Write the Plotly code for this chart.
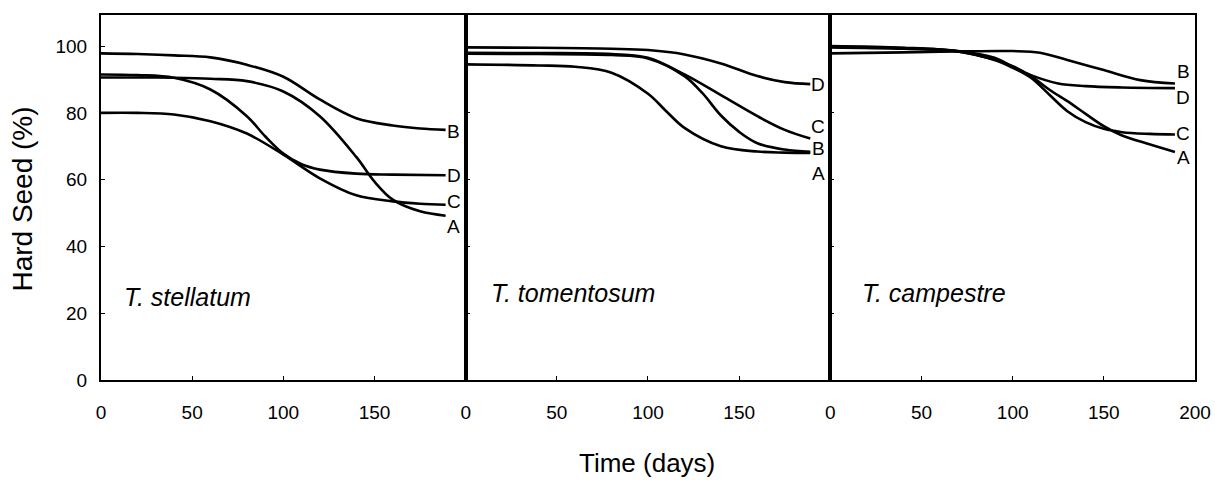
import plotly.graph_objects as go
from plotly.subplots import make_subplots

# ---------------- data ----------------
panels = ["T. stellatum", "T. tomentosum", "T. campestre"]

# T. stellatum
p1_A_x = [0, 20, 40, 60, 80, 100, 120, 140, 150, 160, 175, 189]
p1_A_y = [90.6, 90.6, 90.5, 90.2, 89.5, 86.4, 79.0, 66.8, 59.4, 54.0, 50.5, 49.2]
p1_B_x = [0, 20, 40, 60, 80, 100, 120, 140, 160, 175, 189]
p1_B_y = [97.8, 97.6, 97.2, 96.6, 94.4, 90.8, 84.0, 78.4, 76.2, 75.3, 74.9]
p1_C_x = [0, 20, 40, 60, 80, 100, 120, 140, 160, 175, 189]
p1_C_y = [80.0, 80.0, 79.5, 77.5, 73.8, 67.5, 60.4, 55.3, 53.5, 52.8, 52.5]
p1_D_x = [0, 20, 40, 60, 80, 90, 100, 110, 120, 140, 160, 189]
p1_D_y = [91.5, 91.3, 90.5, 87.0, 79.0, 73.0, 67.8, 64.6, 63.0, 61.8, 61.5, 61.3]

# T. tomentosum
p2_A_x = [0, 40, 60, 80, 100, 110, 120, 140, 160, 175, 189]
p2_A_y = [94.5, 94.2, 93.8, 92.0, 85.7, 80.5, 75.5, 70.0, 68.4, 68.1, 68.0]
p2_B_x = [0, 40, 80, 100, 120, 130, 140, 150, 160, 175, 189]
p2_B_y = [97.7, 97.6, 97.3, 96.3, 91.0, 85.8, 79.2, 74.3, 70.9, 69.0, 68.3]
p2_C_x = [0, 40, 80, 100, 120, 140, 160, 175, 189]
p2_C_y = [98.0, 97.9, 97.6, 96.5, 91.5, 85.3, 79.0, 74.9, 72.3]
p2_D_x = [0, 40, 80, 100, 120, 140, 160, 175, 189]
p2_D_y = [99.6, 99.5, 99.2, 98.8, 97.5, 94.8, 91.0, 89.2, 88.6]

# T. campestre
p3_A_x = [0, 40, 70, 90, 100, 110, 120, 130, 140, 150, 160, 175, 189]
p3_A_y = [100.0, 99.5, 98.4, 96.0, 94.0, 91.0, 87.0, 83.5, 79.7, 76.0, 73.2, 70.6, 68.3]
p3_B_x = [0, 40, 70, 100, 115, 130, 150, 170, 189]
p3_B_y = [97.8, 98.1, 98.4, 98.5, 98.0, 95.8, 92.8, 89.8, 88.8]
p3_C_x = [0, 40, 70, 90, 100, 110, 120, 130, 140, 150, 160, 175, 189]
p3_C_y = [99.6, 99.2, 98.4, 95.8, 93.5, 90.5, 85.5, 80.5, 77.2, 75.2, 74.2, 73.7, 73.5]
p3_D_x = [0, 40, 70, 90, 100, 110, 125, 140, 160, 189]
p3_D_y = [99.8, 99.4, 98.5, 96.5, 93.8, 91.3, 88.8, 88.0, 87.6, 87.4]

# curve-end letters: (label, y position) per panel
p1_labels = [("B", 74.5), ("D", 61.2), ("C", 53.6), ("A", 45.9)]
p2_labels = [("D", 88.6), ("C", 76.0), ("B", 69.3), ("A", 61.9)]
p3_labels = [("B", 92.3), ("D", 84.6), ("C", 73.8), ("A", 66.6)]

x_ticks_12 = [0, 50, 100, 150]
x_ticks_3 = [0, 50, 100, 150, 200]
y_ticks = [0, 20, 40, 60, 80, 100]

# ---------------- figure ----------------
SANS = "Liberation Sans, Arial, sans-serif"

fig = make_subplots(rows=1, cols=3, shared_yaxes=True, horizontal_spacing=0)

curves = [
    [(p1_A_x, p1_A_y), (p1_B_x, p1_B_y), (p1_C_x, p1_C_y), (p1_D_x, p1_D_y)],
    [(p2_A_x, p2_A_y), (p2_B_x, p2_B_y), (p2_C_x, p2_C_y), (p2_D_x, p2_D_y)],
    [(p3_A_x, p3_A_y), (p3_B_x, p3_B_y), (p3_C_x, p3_C_y), (p3_D_x, p3_D_y)],
]
for col, series in enumerate(curves, start=1):
    for xs, ys in series:
        fig.add_trace(
            go.Scatter(x=xs, y=ys, mode="lines",
                       line=dict(color="black", width=2.6, shape="spline", smoothing=1.0),
                       showlegend=False, hoverinfo="skip"),
            row=1, col=col,
        )

axis_common = dict(showline=True, linewidth=2, linecolor="black", mirror=True,
                   showgrid=False, zeroline=False, ticks="inside", ticklen=4,
                   tickcolor="black", tickwidth=1, automargin=False)

for i in range(1, 4):
    fig.update_xaxes(range=[0, 200],
                     tickvals=x_ticks_3 if i == 3 else x_ticks_12,
                     ticklabelstandoff=14,
                     tickfont=dict(family=SANS, size=19, color="black"),
                     row=1, col=i, **axis_common)
    fig.update_yaxes(range=[0, 109.3], tickvals=y_ticks,
                     showticklabels=(i == 1),
                     ticklabelstandoff=8,
                     tickfont=dict(family=SANS, size=19, color="black"),
                     row=1, col=i, **axis_common)

annotations = []
xrefs = ["x", "x2", "x3"]
yrefs = ["y", "y2", "y3"]
title_pos = [(11.5, 25.0), (13.0, 26.0), (16.4, 26.0)]
for i, name in enumerate(panels):
    annotations.append(dict(x=title_pos[i][0], y=title_pos[i][1], xref=xrefs[i], yref=yrefs[i],
                            text=f"<i>{name}</i>", showarrow=False, xanchor="left",
                            yanchor="middle",
                            font=dict(family=SANS, size=25, color="black")))
for i, labs in enumerate([p1_labels, p2_labels, p3_labels]):
    for lab, yv in labs:
        annotations.append(dict(x=193.5, y=yv, xref=xrefs[i], yref=yrefs[i], text=lab,
                                showarrow=False, xanchor="center", yanchor="middle",
                                font=dict(family=SANS, size=19, color="black")))

annotations.append(dict(x=0.499, y=-0.227, xref="paper", yref="paper", text="Time (days)",
                        showarrow=False, xanchor="center", yanchor="middle",
                        font=dict(family=SANS, size=26, color="black")))
annotations.append(dict(x=-0.0713, y=0.497, xref="paper", yref="paper", text="Hard Seed (%)",
                        showarrow=False, xanchor="center", yanchor="middle", textangle=-90,
                        font=dict(family=SANS, size=28, color="black")))

fig.update_layout(
    width=1215, height=480,
    margin=dict(l=101, r=20, t=15, b=100),
    plot_bgcolor="white", paper_bgcolor="white",
    annotations=annotations,
)

fig.write_html("out.html", config={"displayModeBar": False},
               post_script="document.body.style.margin='0';")
